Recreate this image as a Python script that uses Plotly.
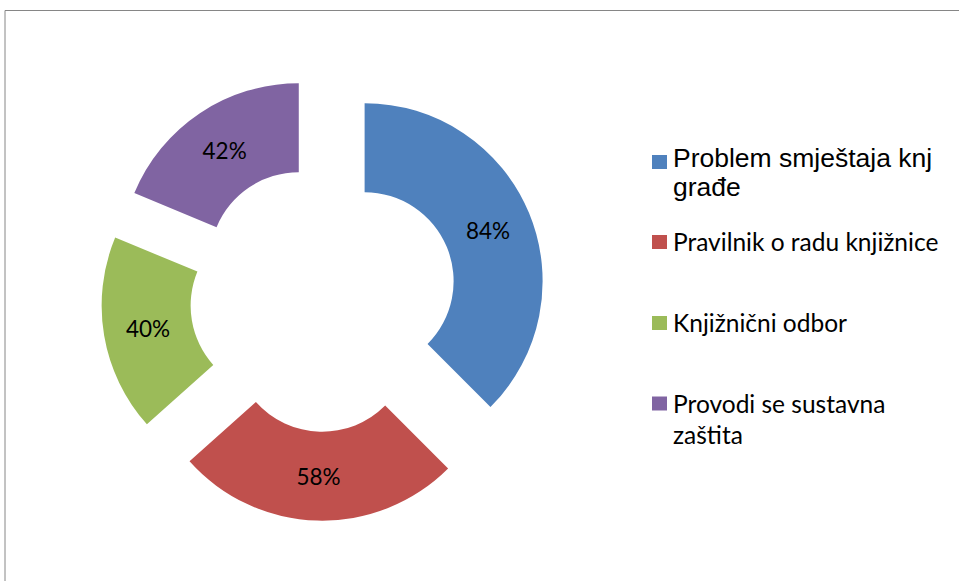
import plotly.graph_objects as go

# ---- data ----
categories = ["Problem smještaja knj građe", "Pravilnik o radu knjižnice",
              "Knjižnični odbor", "Provodi se sustavna zaštita"]
values = [84, 58, 40, 42]
colors = ["#4F81BD", "#C0504D", "#9BBB59", "#8064A2"]
legend_lines = [["Problem smještaja knj", "građe"], ["Pravilnik o radu knjižnice"],
                ["Knjižnični odbor"], ["Provodi se sustavna", "zaštita"]]

W, H = 959, 581

fig = go.Figure(go.Pie(
    labels=categories,
    values=values,
    marker=dict(colors=colors, line=dict(width=0)),
    hole=0.5,
    pull=[0.25] * len(values),
    sort=False,
    direction="clockwise",
    rotation=0,
    texttemplate="%{value}%",
    textposition="inside",
    insidetextorientation="horizontal",
    textfont=dict(family="Lato", size=22.5, color="#000000"),
    domain=dict(x=[101 / W, 546 / W], y=[1 - 520.7 / H, 1 - 75.7 / H]),
    showlegend=False,
    hoverinfo="label+value",
))

shapes = [dict(type="rect", xref="paper", yref="paper",
               x0=5 / W, x1=1.02, y0=-0.02, y1=1 - 10.5 / H,
               line=dict(color="#868686", width=1), fillcolor="rgba(0,0,0,0)",
               layer="above")]
annotations = []

# manual legend layout (pixel positions)
marker_centers = [162, 242, 323, 403.5]
line_centers = [[158, 187.5], [241], [322], [403, 434]]
fonts = [dict(family="Liberation Sans, Arial", size=26.5, color="#000000")] + \
        [dict(family="Lato", size=24.5, color="#000000")] * 3

for i, col in enumerate(colors):
    yc = marker_centers[i]
    shapes.append(dict(type="rect", xref="paper", yref="paper",
                       x0=652 / W, x1=667 / W,
                       y0=1 - (yc + 7) / H, y1=1 - (yc - 7) / H,
                       fillcolor=col, line=dict(width=0)))
    for txt, ly in zip(legend_lines[i], line_centers[i]):
        annotations.append(dict(xref="paper", yref="paper", x=672 / W, y=1 - ly / H,
                                xanchor="left", yanchor="middle", showarrow=False,
                                text=txt, font=fonts[i], borderpad=0))

fig.update_layout(
    width=W, height=H,
    margin=dict(l=0, r=0, t=0, b=0),
    paper_bgcolor="white",
    plot_bgcolor="white",
    shapes=shapes,
    annotations=annotations,
)

fig.write_html("out.html",
               config={"displayModeBar": False},
               post_script="document.body.style.margin='0';"
                           "document.body.style.overflow='hidden';")
